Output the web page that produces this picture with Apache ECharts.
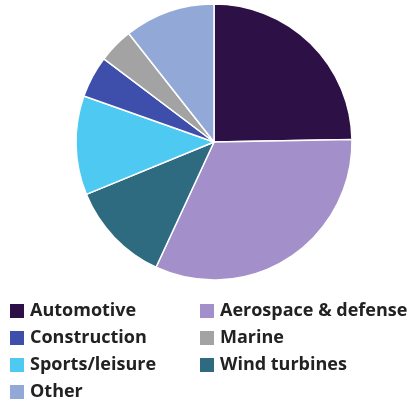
<!DOCTYPE html>
<html>
<head>
<meta charset="utf-8">
<script src="https://cdn.jsdelivr.net/npm/echarts@6/dist/echarts.min.js"></script>
<style>html,body{margin:0;padding:0;background:#fff}#c{width:416px;height:401px}</style>
</head>
<body>
<div id="c"></div>
<script>
// Slices in clockwise order from 12 o'clock
const categories = ["Automotive", "Aerospace & defense", "Wind turbines", "Sports/leisure", "Construction", "Marine", "Other"];
const values = [24.7, 32.2, 11.9, 11.6, 4.9, 4.1, 10.6];
const colors = ["#2d1045", "#a38fca", "#2e6b80", "#4ec9f2", "#3e4fab", "#a3a3a3", "#92a9d8"];
const legendLeft = ["Automotive", "Construction", "Sports/leisure"];
const legendRight = ["Aerospace & defense", "Marine", "Wind turbines"];
const legendBottom = ["Other"];

const chart = echarts.init(document.getElementById('c'), null, {renderer: 'canvas'});
const legendCommon = {
  orient: 'vertical',
  top: 302,
  itemWidth: 16,
  itemHeight: 16,
  itemGap: 9,
  icon: 'rect',
  selectedMode: false,
  textStyle: {fontFamily: 'Open Sans', fontWeight: 'bold', fontSize: 18, color: '#222'},
  padding: 0
};
chart.setOption({
  animation: false,
  color: colors,
  legend: [
    Object.assign({}, legendCommon, {left: 8, data: legendLeft}),
    Object.assign({}, legendCommon, {left: 198, data: legendRight}),
    Object.assign({}, legendCommon, {left: 8, top: 383, data: legendBottom})
  ],
  series: [{
    type: 'pie',
    center: [214, 142],
    radius: [0, 138],
    startAngle: 90,
    clockwise: true,
    label: {show: false},
    labelLine: {show: false},
    itemStyle: {borderColor: '#fff', borderWidth: 1.5},
    emphasis: {disabled: true},
    data: categories.map((n, i) => ({name: n, value: values[i]}))
  }]
});
</script>
</body>
</html>
